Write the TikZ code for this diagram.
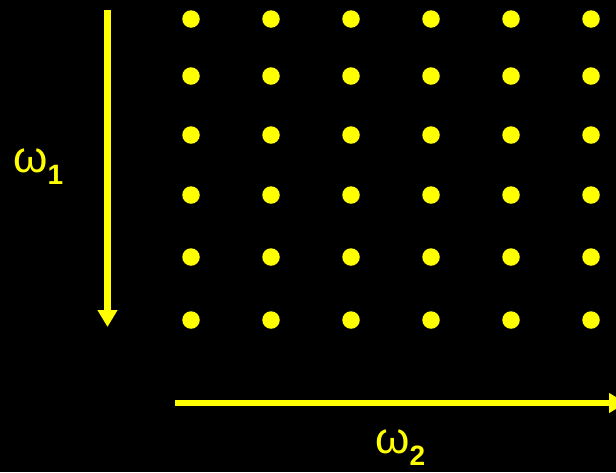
\documentclass[tikz,border=0pt]{standalone}
\usepackage{fontspec}
\setmainfont{Liberation Sans}
\usetikzlibrary{arrows.meta}
\definecolor{dotyellow}{RGB}{255,255,0}
\newcommand{\omlabel}[1]{\fontsize{44}{44}\selectfont ω\raisebox{-12pt}{\fontsize{28}{28}\selectfont\bfseries #1}}

\begin{document}
\begin{tikzpicture}[x=1pt,y=-1pt]
\useasboundingbox[fill=black] (0,0) rectangle (616,472);

% Grid of samples
\foreach \r/\y in {1/19,2/76,3/135,4/195,5/257,6/320}
  \foreach \c in {1,...,6}
    \node (d\r\c) [circle,fill=dotyellow,inner sep=0pt,minimum size=17.5pt] at ({111+80*\c},\y) {};

% Axes
\coordinate (ax1s) at (107.5,10);
\coordinate (ax1e) at (107.5,327);
\coordinate (ax2s) at (175,403);
\coordinate (ax2e) at (626,403);
\draw [dotyellow,line width=6.5pt,-{Triangle[length=17pt,width=19pt]}] (ax1s) -- (ax1e);
\draw [dotyellow,line width=6.5pt,-{Triangle[length=17pt,width=19pt]}] (ax2s) -- (ax2e);

% Labels
\node (w1) [anchor=base west,inner sep=0pt,text=dotyellow] at (13,172) {\omlabel{1}};
\node (w2) [anchor=base west,inner sep=0pt,text=dotyellow] at (375,453) {\omlabel{2}};

\end{tikzpicture}
\end{document}
